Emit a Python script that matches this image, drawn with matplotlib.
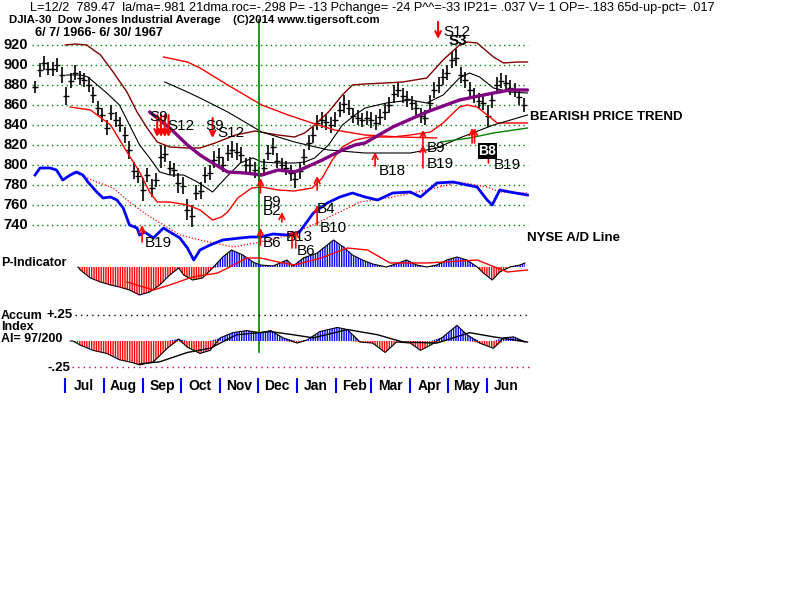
import numpy as np
import pandas as pd
import matplotlib
matplotlib.use('Agg')
from matplotlib import pyplot as plt

plt.rcParams['font.family'] = ['Liberation Sans', 'DejaVu Sans']
plt.rcParams['hatch.linewidth'] = 1.0

start = pd.Timestamp('1966-06-07')
end = pd.Timestamp('1967-06-30')
last_day = pd.Timestamp('1966-12-02')

# daily price bars (high / low) left to right
price_hi = [884, 902, 909, 903, 903, 907, 898, 878, 892, 900, 894, 892, 888, 878, 864, 857,
            845, 860, 853, 848, 838, 824, 803, 797, 787, 797, 786, 792, 820, 820, 804, 802,
            792, 788, 766, 760, 780, 783, 798, 800, 814, 817, 808, 820, 824, 822, 818, 807,
            808, 803, 798, 806, 820, 827, 812, 807, 804, 800, 795, 803, 816, 830, 838, 850,
            853, 851, 848, 853, 863, 870, 865, 857, 855, 852, 854, 853, 850, 856, 862, 868,
            880, 882, 877, 874, 869, 864, 857, 855, 870, 883, 888, 896, 900, 913, 916, 898,
            893, 883, 877, 872, 870, 860, 873, 888, 892, 890, 885, 882, 876, 867]
price_lo = [872, 888, 895, 890, 889, 893, 882, 860, 877, 885, 880, 878, 873, 862, 850, 843,
            830, 845, 838, 833, 822, 806, 786, 782, 764, 783, 768, 778, 797, 803, 790, 788,
            772, 771, 745, 738, 765, 766, 782, 785, 797, 800, 793, 804, 807, 805, 802, 793,
            792, 787, 783, 789, 805, 810, 797, 793, 790, 784, 777, 786, 800, 815, 822, 835,
            837, 835, 832, 838, 848, 852, 850, 842, 840, 838, 840, 837, 835, 840, 845, 852,
            862, 868, 862, 858, 855, 850, 842, 840, 854, 867, 872, 880, 885, 897, 899, 882,
            877, 867, 862, 857, 855, 838, 857, 872, 877, 875, 870, 868, 860, 853]

# bands and averages: (calendar day from start, value)
upper_days = [24, 32, 41, 52, 62, 73, 81, 89, 97, 107, 121, 131, 143, 159, 175, 183, 193, 206,
              214, 222, 233, 244, 252, 262, 278, 292, 311, 324, 337, 343, 351, 364, 372, 383, 391]
upper_vals = [920, 921, 920, 910, 893, 873, 853, 837, 823, 818, 817, 817, 822, 830, 834, 832, 830, 828,
              832, 840, 853, 870, 880, 881, 882, 883, 887, 905, 920, 923, 922, 908, 902, 903, 903]
lower_days = [28, 44, 60, 73, 83, 91, 97, 107, 121, 131, 141, 148, 153, 161, 172, 180, 193, 206,
              220, 228, 236, 244, 254, 266, 284, 298, 314, 324, 332, 337, 343, 351, 359, 367, 377, 391]
lower_vals = [858, 855, 840, 813, 793, 773, 763, 763, 760, 755, 745, 748, 753, 767, 777, 778, 775, 774,
              777, 787, 805, 818, 825, 828, 828, 830, 833, 842, 852, 858, 860, 858, 850, 842, 842, 842]
longred_days = [102, 121, 131, 153, 180, 201, 220, 238, 262, 290, 319]
longred_vals = [908, 903, 897, 880, 860, 850, 842, 835, 830, 828, 827]
ma21_days = [25, 36, 42, 57, 67, 75, 83, 91, 99, 107, 118, 129, 141, 152, 163, 173, 180, 193,
             206, 214, 222, 233, 244, 254, 262, 279, 298, 311, 324, 337, 345, 353, 364, 377, 391]
ma21_vals = [890, 890, 888, 872, 860, 840, 820, 807, 793, 790, 790, 783, 773, 788, 802, 807, 803, 802,
             802, 803, 807, 820, 840, 850, 857, 862, 865, 862, 870, 887, 892, 888, 877, 873, 872]
longblack_days = [103, 121, 131, 153, 180, 206, 233, 262, 298, 319, 337, 364, 391]
longblack_vals = [883, 873, 867, 853, 833, 823, 815, 812, 812, 817, 827, 840, 850]
green_days = [322, 345, 364, 391]
green_vals = [823, 827, 832, 837]
ma65_days = [91, 107, 121, 131, 141, 153, 167, 180, 193, 206, 214, 228, 244, 254, 262, 284,
             311, 337, 364, 377, 391]
ma65_vals = [853, 837, 820, 810, 802, 793, 792, 790, 795, 793, 797, 805, 815, 820, 822, 838,
             853, 865, 872, 875, 875]

# NYSE A/D line and its average (plotted on the price scale of the chart)
ad_days = [0, 4, 12, 17, 22, 28, 33, 38, 42, 49, 54, 60, 65, 70, 75, 81, 83, 87, 94, 102, 107, 115,
           121, 126, 131, 139, 149, 163, 171, 179, 189, 200, 210, 221, 232, 242, 252, 262, 272, 284,
           298, 306, 319, 332, 343, 351, 359, 363, 369, 377, 391]
ad_vals = [790, 797, 797, 795, 785, 790, 793, 790, 783, 773, 767, 768, 765, 757, 740, 737, 730, 733,
           727, 737, 733, 727, 717, 705, 715, 720, 725, 727, 728, 728, 731, 730, 733, 752, 762, 768,
           772, 768, 765, 772, 773, 768, 782, 783, 780, 778, 765, 760, 775, 773, 770]
adma_days = [30, 49, 62, 75, 89, 102, 115, 131, 157, 179, 202, 224, 237, 258, 284, 311, 337, 359, 369, 391]
adma_vals = [793, 783, 777, 763, 750, 740, 730, 725, 718, 723, 730, 742, 750, 763, 768, 775, 783, 778, 773, 772]

# P-Indicator
p_days = [34, 36, 44, 52, 60, 67, 75, 83, 91, 99, 107, 114, 118, 125, 133, 141, 149, 156, 165, 173,
          179, 189, 200, 205, 213, 224, 232, 237, 245, 252, 260, 268, 279, 284, 295, 303, 311, 319,
          327, 335, 343, 351, 356, 363, 369, 377, 385, 389]
p_vals = [0, -3, -11, -15, -18, -20, -23, -28, -25, -18, -8, -1, -8, -13, -11, -1, 10, 17, 12, 5,
          2, 1, 7, 1, 9, 14, 22, 27, 20, 12, 7, 3, 0, 2, 7, 2, 0, 2, 7, 10, 7, 0, -6, -13, -5, 0, 2, 4]
pma_days = [73, 94, 107, 125, 145, 153, 168, 179, 193, 206, 227, 248, 264, 282, 311, 351, 367, 375, 391]
pma_vals = [-15, -23, -18, -10, -6, -1, 9, 9, 5, 2, 9, 19, 17, 4, 4, 7, -1, -5, -3]

# Accumulation Index
ai_days = [28, 30, 36, 46, 57, 67, 78, 83, 94, 105, 114, 121, 131, 139, 147, 157, 168, 179, 187, 197,
           208, 216, 226, 240, 248, 258, 268, 278, 287, 298, 306, 314, 324, 335, 343, 353, 364, 372,
           380, 389]
ai_vals = [0, 0, -0.04, -0.09, -0.12, -0.18, -0.21, -0.23, -0.20, -0.07, 0.02, -0.06, -0.12, -0.09,
           0.03, 0.08, 0.10, 0.08, 0.10, 0.03, -0.02, 0.01, 0.09, 0.13, 0.11, -0.01, -0.02, -0.11,
           -0.01, -0.02, -0.09, -0.04, 0.04, 0.15, 0.06, -0.02, -0.07, 0.03, 0.04, -0.01]
aima_days = [83, 99, 121, 139, 160, 187, 205, 221, 248, 272, 292, 319, 345, 364, 391]
aima_vals = [-0.22, -0.20, -0.11, -0.07, 0.06, 0.09, 0.06, 0.03, 0.11, 0.06, -0.01, -0.02, 0.08, 0.04, -0.01]

# signals
sig_text = ['S9', 'S12', 'S9', 'S12', 'S12', 'S3', 'B9', 'B2', 'B6', 'B13', 'B6', 'B4', 'B10',
            'B19', 'B18', 'B9', 'B19', 'B19']
sig_days = [91, 105, 135, 145, 324, 328, 181, 181, 181, 199, 208, 224, 226, 87, 273, 311, 311, 364]
sig_vals = [848, 839, 839, 832, 933, 924, 763, 754, 722, 728, 714, 756, 737, 722, 794, 817, 801, 800]
buy_days = [85, 179, 179, 196, 204, 207, 224, 224, 270, 308, 308, 347, 349, 360]
buy_from = [723, 772, 720, 743, 717, 717, 775, 740, 799, 817, 797, 822, 822, 802]
buy_to = [740, 787, 737, 753, 735, 735, 789, 760, 813, 835, 820, 837, 837, 817]
sell_days = [97, 100, 103, 106, 141, 320]
sell_from = [850, 850, 850, 850, 847, 943]
sell_to = [828, 828, 828, 828, 827, 926]

months = ['Jul', 'Aug', 'Sep', 'Oct', 'Nov', 'Dec', 'Jan', 'Feb', 'Mar', 'Apr', 'May', 'Jun']
month_starts = pd.date_range('1966-07-01', '1967-06-01', freq='MS')
price_ticks = [920, 900, 880, 860, 840, 820, 800, 780, 760, 740]


def d(days):
    return start + pd.to_timedelta(np.array(days), unit='D')


W, H = 800, 600
fig = plt.figure(figsize=(8, 6), dpi=100)
fig.patch.set_facecolor('white')


def box(x0, y0, x1, y1):
    return [x0 / W, 1 - y1 / H, (x1 - x0) / W, (y1 - y0) / H]


xlim = (start - pd.Timedelta(days=4), start + pd.Timedelta(days=393))

ax = fig.add_axes(box(30, 20, 530, 265))
axp = fig.add_axes(box(30, 235, 530, 300))
axa = fig.add_axes(box(30, 305, 530, 372))
axm = fig.add_axes(box(30, 372, 530, 396))
for a in (ax, axp, axa, axm):
    a.set_xlim(xlim)
    a.axis('off')
    a.patch.set_alpha(0)

ax.set_ylim(700, 945)
axp.set_ylim(-33, 32)
axa.set_ylim(-0.298, 0.346)
axm.set_ylim(0, 1)

# price panel
for t in price_ticks:
    ax.axhline(t, xmin=0.004, xmax=0.996, color='#008000', lw=1, ls=(0, (1, 2.5)))
    ax.text(-0.004, t, str(t), transform=ax.get_yaxis_transform(), ha='right', va='center',
            fontsize=10.5, fontweight='bold')

bar_dates = pd.date_range(start, end, periods=len(price_hi))
hi = np.array(price_hi)
lo = np.array(price_lo)
ax.vlines(bar_dates, lo, hi, color='black', lw=1.2)
ax.plot(bar_dates, (hi + lo) / 2, ls='none', marker='_', ms=4.5, mew=1, color='black')

ax.plot(d(upper_days), upper_vals, color='#800000', lw=1)
ax.plot(d(lower_days), lower_vals, color='red', lw=1)
ax.plot(d(longred_days), longred_vals, color='red', lw=1)
ax.plot(d(ma21_days), ma21_vals, color='black', lw=0.8)
ax.plot(d(longblack_days), longblack_vals, color='black', lw=0.8)
ax.plot(d(green_days), green_vals, color='#008000', lw=1)
ax.plot(d(ma65_days), ma65_vals, color='#800080', lw=2.4, solid_capstyle='round')
ax.plot(d(adma_days), adma_vals, color='red', lw=0.9, ls=(0, (1, 1.5)))
ax.plot(d(ad_days), ad_vals, color='#0000ff', lw=2)

ax.axvline(last_day, ymin=-0.355, ymax=1, color='#008000', lw=1.2, clip_on=False)

for x, f, t in zip(buy_days, buy_from, buy_to):
    ax.annotate('', xy=(d([x])[0], t), xytext=(d([x])[0], f),
                arrowprops=dict(arrowstyle='->', color='red', lw=1.2, shrinkA=0, shrinkB=0))
for x, f, t in zip(sell_days, sell_from, sell_to):
    ax.annotate('', xy=(d([x])[0], t), xytext=(d([x])[0], f), annotation_clip=False,
                arrowprops=dict(arrowstyle='->', color='red', lw=1.5, shrinkA=0, shrinkB=0))
for s, x, v in zip(sig_text, sig_days, sig_vals):
    ax.text(d([x])[0], v, s, fontsize=11, ha='left', va='center', clip_on=False,
            fontweight='bold' if s == 'S3' else 'normal')
ax.text(d([352])[0], 814, 'B8', fontsize=10, ha='left', va='center', color='white',
        fontweight='bold', bbox=dict(facecolor='black', edgecolor='none', pad=0.5))

# P-Indicator panel
pd_ = d(p_days)
pv = np.array(p_vals, dtype=float)
axp.fill_between(pd_, np.minimum(pv, 0), 0, facecolor='none', edgecolor='red',
                 hatch='|' * 7, linewidth=0)
axp.fill_between(pd_, np.maximum(pv, 0), 0, facecolor='none', edgecolor='#0000ff',
                 hatch='|' * 7, linewidth=0)
axp.plot(pd_, pv, color='black', lw=0.8)
axp.plot(d(pma_days), pma_vals, color='red', lw=1)

# Accumulation index panel
axa.axhline(0.25, xmin=0.09, xmax=1.0, color='black', lw=1, ls=(0, (1, 3)))
axa.axhline(-0.25, xmin=0.084, xmax=1.0, color='#c00060', lw=1, ls=(0, (1, 3)))
ad_ = d(ai_days)
av = np.array(ai_vals)
axa.fill_between(ad_, np.minimum(av, 0), 0, facecolor='none', edgecolor='red',
                 hatch='|' * 7, linewidth=0)
axa.fill_between(ad_, np.maximum(av, 0), 0, facecolor='none', edgecolor='#0000ff',
                 hatch='|' * 7, linewidth=0)
axa.plot(ad_, av, color='black', lw=0.8)
axa.plot(d(aima_days), aima_vals, color='black', lw=1)

# month strip
axm.vlines(month_starts, 0.125, 0.75, color='#0000ff', lw=1.5)
for m, ms in zip(months, month_starts):
    axm.text(ms + pd.Timedelta(days=15), 0.42, m, ha='center', va='center',
             fontsize=10, fontweight='bold')

# header and panel labels
fig.text(30 / W, 1 - 8 / H, 'L=12/2  789.47  la/ma=.981 21dma.roc=-.298 P= -13 Pchange= -24 '
         'P^^=-33 IP21= .037 V= 1 OP=-.183 65d-up-pct= .017', fontsize=9.2, va='center')
fig.text(9 / W, 1 - 20 / H, 'DJIA-30  Dow Jones Industrial Average    (C)2014 www.tigersoft.com',
         fontsize=8.2, fontweight='bold', va='center')
fig.text(35 / W, 1 - 33 / H, '6/ 7/ 1966- 6/ 30/ 1967', fontsize=9.2, fontweight='bold', va='center')
fig.text(530 / W, 1 - 117 / H, 'BEARISH PRICE TREND', fontsize=9.5, fontweight='bold', va='center')
fig.text(527 / W, 1 - 238 / H, 'NYSE A/D Line', fontsize=9.5, fontweight='bold', va='center')
fig.text(1 / W, 1 - 263 / H, 'P-Indicator', fontsize=9, fontweight='bold', va='center')
fig.text(1 / W, 1 - 316 / H, 'Accum', fontsize=9, fontweight='bold', va='center')
fig.text(1 / W, 1 - 327 / H, 'Index', fontsize=9, fontweight='bold', va='center')
fig.text(1 / W, 1 - 339 / H, 'AI= 97/200', fontsize=9, fontweight='bold', va='center')
fig.text(73 / W, 1 - 315 / H, '+.25', fontsize=9.5, fontweight='bold', va='center', ha='right')
fig.text(70 / W, 1 - 368 / H, '-.25', fontsize=9.5, fontweight='bold', va='center', ha='right')

fig.savefig('out.png', dpi=100, facecolor='white')
